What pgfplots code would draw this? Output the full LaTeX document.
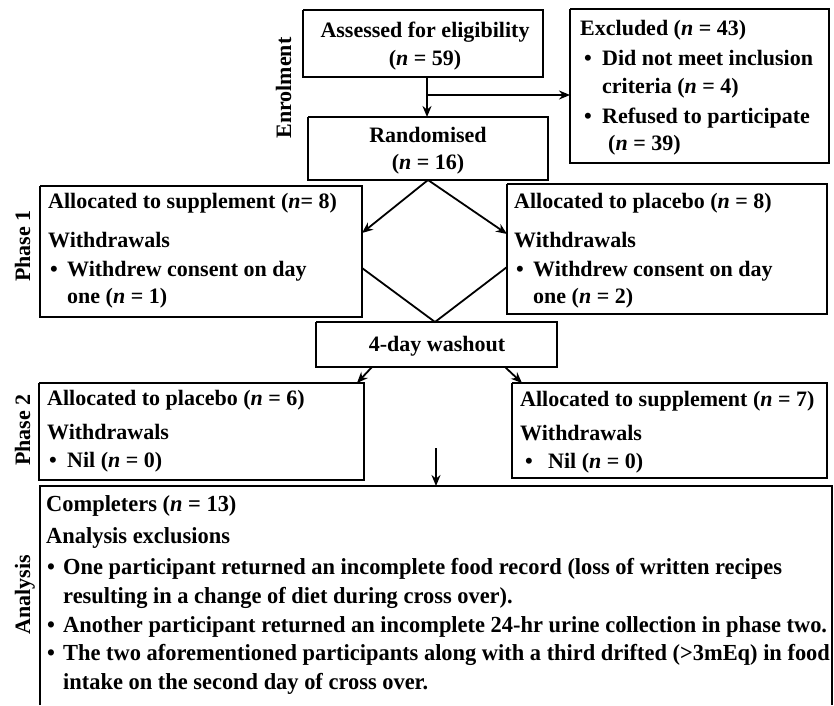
\documentclass[border=0pt]{standalone}
\usepackage{pgfplots}
\pgfplotsset{compat=1.18}
\usepackage{fontspec}
\setmainfont{Liberation Serif}
\newfontfamily\condfont{Liberation Serif}[FakeStretch=0.975]
\usetikzlibrary{arrows.meta}
\newcommand{\nn}{\textit{n}}
\newcommand{\fs}{\fontsize{22}{26}\selectfont\bfseries}
\newcommand{\fa}{\fontsize{23}{27}\selectfont\bfseries\condfont}
\tikzset{
  arr/.style={-{Stealth[length=11pt,width=9pt]}},
  tl/.style={anchor=west, text height=16pt, text depth=4pt, inner sep=0pt, font=\fs},
  ta/.style={anchor=west, text height=16pt, text depth=4pt, inner sep=0pt, font=\fa},
  tc/.style={anchor=center, text height=16pt, text depth=4pt, inner sep=0pt, font=\fs},
  tr/.style={rotate=90, anchor=center, text height=16pt, text depth=4pt, inner sep=0pt, font=\fs}}
\begin{document}
\begin{tikzpicture}
\begin{axis}[hide axis, scale only axis, width=834pt, height=705pt,
  xmin=0, xmax=834, ymin=0, ymax=705, y dir=reverse, clip=false,
  cycle list={{black, solid, mark=none, line width=1.8pt}},
  every axis plot/.append style={line width=1.8pt}]
\path (rel axis cs:0,0) rectangle (rel axis cs:1,1);
% boxes
\addplot coordinates {(303,10) (543,10) (543,77) (303,77) (303,10)};
\addplot coordinates {(570,9) (829,9) (829,163) (570,163) (570,9)};
\addplot coordinates {(308,117) (548,117) (548,180) (308,180) (308,117)};
\addplot coordinates {(40,186) (362,186) (362,317) (40,317) (40,186)};
\addplot coordinates {(507,184) (827,184) (827,314) (507,314) (507,184)};
\addplot coordinates {(316,322) (557,322) (557,367) (316,367) (316,322)};
\addplot coordinates {(39,383) (364,383) (364,480) (39,480) (39,383)};
\addplot coordinates {(512,383) (827,383) (827,478) (512,478) (512,383)};
\addplot coordinates {(40,705) (40,486) (832,486) (832,705)};
% arrows and lines
\addplot+[arr] coordinates {(427,77) (427,117)};
\addplot+[arr] coordinates {(427,95) (570,95)};
\addplot+[arr] coordinates {(428,180) (362,233)};
\addplot+[arr] coordinates {(428,180) (507,234)};
\addplot coordinates {(362,268) (435,322) (507,267)};
\addplot+[arr] coordinates {(372,367) (357,383)};
\addplot+[arr] coordinates {(505,367) (522,383)};
\addplot+[arr] coordinates {(436,448) (436,486)};
% side labels
\node[tr] at (axis cs:285,88) {Enrolment};
\node[tr] at (axis cs:24,246) {Phase 1};
\node[tr] at (axis cs:24,430) {Phase 2};
\node[tr] at (axis cs:24,595) {Analysis};
% enrolment texts
\node[tc] at (axis cs:425,32) {Assessed for eligibility};
\node[tc] at (axis cs:425,60) {(\nn{} = 59)};
\node[tc] at (axis cs:428,137) {Randomised};
\node[tc] at (axis cs:428,163) {(\nn{} = 16)};
\node[tl] at (axis cs:580,30) {Excluded (\nn{} = 43)};
\node[tl] at (axis cs:584,60) {•};
\node[tl] at (axis cs:602,60) {Did not meet inclusion};
\node[tl] at (axis cs:602,88) {criteria (\nn{} = 4)};
\node[tl] at (axis cs:584,118) {•};
\node[tl] at (axis cs:602,118) {Refused to participate};
\node[tl] at (axis cs:608,145) {(\nn{} = 39)};
% phase 1
\node[tl] at (axis cs:48,202) {Allocated to supplement (\nn{}= 8)};
\node[tl] at (axis cs:48,241) {Withdrawals};
\node[tl] at (axis cs:50,270) {•};
\node[tl] at (axis cs:67,270) {Withdrew consent on day};
\node[tl] at (axis cs:67,297) {one (\nn{} = 1)};
\node[tl] at (axis cs:514,202) {Allocated to placebo (\nn{} = 8)};
\node[tl] at (axis cs:514,241) {Withdrawals};
\node[tl] at (axis cs:516,270) {•};
\node[tl] at (axis cs:533,270) {Withdrew consent on day};
\node[tl] at (axis cs:533,297) {one (\nn{} = 2)};
% washout
\node[tc] at (axis cs:437,345) {4-day washout};
% phase 2
\node[tl] at (axis cs:47,399) {Allocated to placebo (\nn{} = 6)};
\node[tl] at (axis cs:47,433) {Withdrawals};
\node[tl] at (axis cs:49,461) {•};
\node[tl] at (axis cs:67,461) {Nil (\nn{} = 0)};
\node[tl] at (axis cs:520,400) {Allocated to supplement (\nn{} = 7)};
\node[tl] at (axis cs:520,434) {Withdrawals};
\node[tl] at (axis cs:525,462) {•};
\node[tl] at (axis cs:548,462) {Nil (\nn{} = 0)};
% analysis
\node[ta] at (axis cs:46,505) {Completers (\nn{} = 13)};
\node[ta] at (axis cs:46,537) {Analysis exclusions};
\node[ta] at (axis cs:47,568) {•};
\node[ta] at (axis cs:63,568) {One participant returned an incomplete food record (loss of written recipes};
\node[ta] at (axis cs:63,597) {resulting in a change of diet during cross over).};
\node[ta] at (axis cs:47,626) {•};
\node[ta] at (axis cs:63,626) {Another participant returned an incomplete 24-hr urine collection in phase two.};
\node[ta] at (axis cs:47,654) {•};
\node[ta] at (axis cs:63,654) {The two aforementioned participants along with a third drifted (>3mEq) in food};
\node[ta] at (axis cs:63,683) {intake on the second day of cross over.};
\end{axis}
\end{tikzpicture}
\end{document}
